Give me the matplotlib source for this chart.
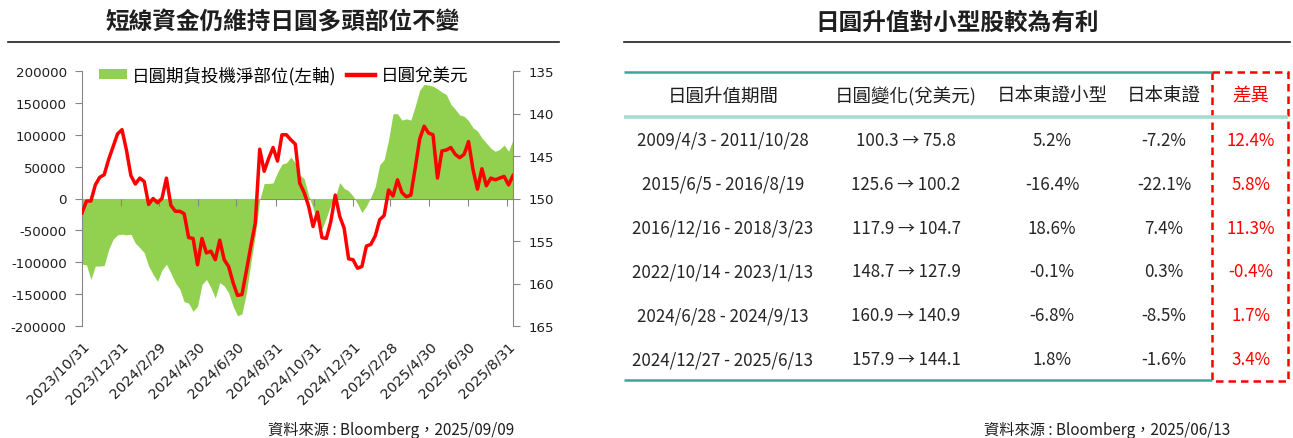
import matplotlib
matplotlib.use('Agg')
import matplotlib.pyplot as plt
import matplotlib.dates as mdates
from matplotlib.patches import Patch, Rectangle
from matplotlib.lines import Line2D
from matplotlib.ticker import FuncFormatter
import pandas as pd

plt.rcParams['font.family'] = ['Noto Sans CJK TC', 'DejaVu Sans']
plt.rcParams['axes.unicode_minus'] = False

W, H = 1293, 439

# ---------------- data ----------------
start_date = '2023-10-31'
end_date = '2025-09-09'
n_weeks = 98

net_position = [
    -103000, -104000, -127000, -106000, -106000, -105000, -80000, -64000, -57000, -56000,
    -57000, -56000, -70000, -77000, -85000, -106000, -119000, -130000, -112000, -103000,
    -117000, -132000, -142000, -162000, -164000, -177000, -169000, -135000, -127000, -140000,
    -156000, -132000, -137000, -148000, -169000, -184000, -181000, -148000, -101000, -57000,
    -2000, 23500, 23500, 24500, 41000, 54000, 56000, 65000, 56000, 37000,
    31000, 5000, -15000, -38000, -48000, -30000, -10000, 2000, 25000, 16000,
    12000, 4000, -8000, -22000, -12000, 2000, 19000, 53000, 61000, 92000,
    133000, 133000, 123000, 125000, 123000, 145000, 170000, 179000, 178000, 176000,
    172000, 167000, 163000, 148000, 140000, 131000, 129000, 122000, 111000, 106000,
    95000, 87000, 79000, 74000, 77000, 84000, 74000, 92000,
]

usdjpy = [
    151.7, 150.3, 150.3, 148.4, 147.5, 147.2, 145.4, 143.9, 142.4, 141.9,
    144.3, 147.3, 148.3, 147.6, 148.0, 150.7, 150.0, 150.5, 150.0, 147.6,
    150.8, 151.5, 151.5, 151.8, 154.6, 154.7, 157.8, 154.7, 156.4, 156.2,
    157.2, 154.9, 157.2, 158.0, 159.9, 161.4, 161.3, 158.5, 155.6, 152.9,
    144.2, 146.8, 145.3, 144.0, 145.6, 142.5, 142.5, 143.1, 143.6, 148.2,
    149.3, 150.9, 153.3, 151.6, 154.6, 154.7, 152.7, 149.6, 152.1, 153.5,
    157.1, 157.2, 158.2, 158.0, 155.6, 155.4, 154.4, 152.5, 152.0, 149.0,
    149.7, 147.8, 149.3, 149.8, 149.6, 146.4, 143.0, 141.5, 142.3, 142.5,
    147.6, 144.4, 144.3, 144.0, 144.8, 145.2, 144.8, 143.3, 146.6, 148.9,
    146.5, 148.5, 147.6, 147.8, 147.6, 147.4, 148.4, 147.3,
]

tick_dates = ['2023-10-31', '2023-12-31', '2024-02-29', '2024-04-30', '2024-06-30',
              '2024-08-31', '2024-10-31', '2024-12-31', '2025-02-28', '2025-04-30',
              '2025-06-30', '2025-08-31']
tick_labels = ['2023/10/31', '2023/12/31', '2024/2/29', '2024/4/30', '2024/6/30',
               '2024/8/31', '2024/10/31', '2024/12/31', '2025/2/28', '2025/4/30',
               '2025/6/30', '2025/8/31']
left_ticks = [200000, 150000, 100000, 50000, 0, -50000, -100000, -150000, -200000]
right_ticks = [135, 140, 145, 150, 155, 160, 165]

legend_labels = ['日圓期貨投機淨部位(左軸)', '日圓兌美元']
left_title = '短線資金仍維持日圓多頭部位不變'
right_title = '日圓升值對小型股較為有利'
left_source = '資料來源 : Bloomberg，2025/09/09'
right_source = '資料來源 : Bloomberg，2025/06/13'

headers = ['日圓升值期間', '日圓變化(兌美元)', '日本東證小型', '日本東證', '差異']
periods = ['2009/4/3 - 2011/10/28', '2015/6/5 - 2016/8/19', '2016/12/16 - 2018/3/23',
           '2022/10/14 - 2023/1/13', '2024/6/28 - 2024/9/13', '2024/12/27 - 2025/6/13']
yen_from = [100.3, 125.6, 117.9, 148.7, 160.9, 157.9]
yen_to = [75.8, 100.2, 104.7, 127.9, 140.9, 144.1]
small_cap = [5.2, -16.4, 18.6, -0.1, -6.8, 1.8]
topix = [-7.2, -22.1, 7.4, 0.3, -8.5, -1.6]
diff = [12.4, 5.8, 11.3, -0.4, 1.7, 3.4]

# ---------------- styles ----------------
GREEN = '#92d050'
RED = '#ff0000'
GRAY = '#868686'
TXT = '#1e1e1e'
TEAL = '#3aa79e'
TEAL_LIGHT = '#a6dbd1'


def fx(px):
    return px / W


def fy(py):
    return 1 - py / H


fig = plt.figure(figsize=(W / 100, H / 100), dpi=100)

dates = pd.date_range(start_date, periods=n_weeks, freq='7D')

ax = fig.add_axes([fx(82), fy(327), (513 - 82) / W, (327 - 72) / H])
ax.fill_between(dates, 0, net_position, color=GREEN, lw=0, zorder=1)
ax.set_ylim(-200000, 200000)
ax.set_xlim(pd.Timestamp(start_date), pd.Timestamp(end_date))
ax.set_yticks(left_ticks)
ax.yaxis.set_major_formatter(FuncFormatter(lambda v, p: f'{int(v)}'))
tick_pos = pd.to_datetime(tick_dates)
ax.set_xticks(tick_pos)
ax.spines['top'].set_visible(False)
ax.spines['right'].set_visible(False)
ax.spines['left'].set_color(GRAY)
ax.spines['bottom'].set_color(GRAY)
ax.spines['bottom'].set_position(('data', 0))
ax.spines['bottom'].set_zorder(0.5)
ax.tick_params(axis='x', direction='out', length=5, color=GRAY, labelbottom=False)
ax.tick_params(axis='y', direction='out', length=5, color=GRAY, labelsize=9.6,
               pad=6, labelcolor=TXT, labelfontfamily='DejaVu Sans')
ax.patch.set_visible(False)

ax2 = ax.twinx()
ax2.plot(dates, usdjpy, color=RED, lw=2.5, zorder=3)
ax2.set_ylim(165, 135)
ax2.set_yticks(right_ticks)
for s in ['top', 'left', 'bottom']:
    ax2.spines[s].set_visible(False)
ax2.spines['right'].set_color(GRAY)
ax2.tick_params(axis='y', direction='out', length=5, color=GRAY, labelsize=9.6,
                pad=6, labelcolor=TXT, labelfontfamily='DejaVu Sans')

sec = ax.secondary_xaxis('bottom')
sec.set_xticks(mdates.date2num(tick_pos), labels=tick_labels)
sec.spines['bottom'].set_visible(False)
sec.tick_params(axis='x', length=0, pad=9, labelsize=10.3, labelcolor=TXT,
                labelfontfamily='DejaVu Sans')
for lbl in sec.get_xticklabels():
    lbl.set_rotation(45)
    lbl.set_ha('right')
    lbl.set_rotation_mode('anchor')

handles = [Patch(facecolor=GREEN, edgecolor='none', label=legend_labels[0]),
           Line2D([], [], color=RED, lw=3.2, label=legend_labels[1])]
ax2.legend(handles=handles, loc='center left', bbox_to_anchor=(fx(99), fy(76)),
           bbox_transform=fig.transFigure, ncol=2, frameon=False, fontsize=12.6,
           handlelength=1.6, handleheight=0.55, handletextpad=0.3,
           columnspacing=0.6, borderpad=0, borderaxespad=0)

# titles & rules
fig.text(fx(283), fy(22.5), left_title, ha='center', va='center', fontsize=17,
         fontweight='bold', color=TXT)
fig.text(fx(957), fy(22.5), right_title, ha='center', va='center', fontsize=17,
         fontweight='bold', color=TXT)
fig.add_artist(Line2D([fx(8), fx(559)], [fy(43.3)] * 2, color=TXT, lw=1.2))
fig.add_artist(Line2D([fx(624), fx(1290)], [fy(43.3)] * 2, color=TXT, lw=1.2))

fig.text(fx(514), fy(430), left_source, ha='right', va='center', fontsize=11, color=TXT)
fig.text(fx(1230), fy(430), right_source, ha='right', va='center', fontsize=11, color=TXT)

# ---------------- table ----------------
tax = fig.add_axes([0, 0, 1, 1])
tax.set_xlim(0, W)
tax.set_ylim(H, 0)
tax.axis('off')

col_x = [723, 906, 1052, 1164, 1251]
header_y = 97
row_y = [141, 185, 229, 272.5, 316.5, 360.5]
box_left, box_right = 1212, 1288

tax.plot([624, box_left], [73, 73], color=TEAL, lw=1.8, solid_capstyle='butt')
tax.plot([624, box_right], [118, 118], color=TEAL_LIGHT, lw=2.6, solid_capstyle='butt')
tax.plot([624, box_left], [381, 381], color=TEAL, lw=1.8, solid_capstyle='butt')
tax.add_patch(Rectangle((box_left, 72.5), box_right - box_left, 309.5, fill=False,
                        edgecolor=RED, lw=1.8, ls=(0, (3, 2))))

for i, h in enumerate(headers):
    tax.text(col_x[i], header_y, h, ha='center', va='center', fontsize=13.3,
             color=RED if i == 4 else TXT)

for r in range(len(periods)):
    y = row_y[r]
    cells = [periods[r], f'{yen_from[r]:.1f} → {yen_to[r]:.1f}',
             f'{small_cap[r]:.1f}%', f'{topix[r]:.1f}%', f'{diff[r]:.1f}%']
    for i, c in enumerate(cells):
        tax.text(col_x[i], y, c, ha='center', va='center', fontsize=12.2,
                 color=RED if i == 4 else '#262626')

fig.savefig('out.png', dpi=100)
